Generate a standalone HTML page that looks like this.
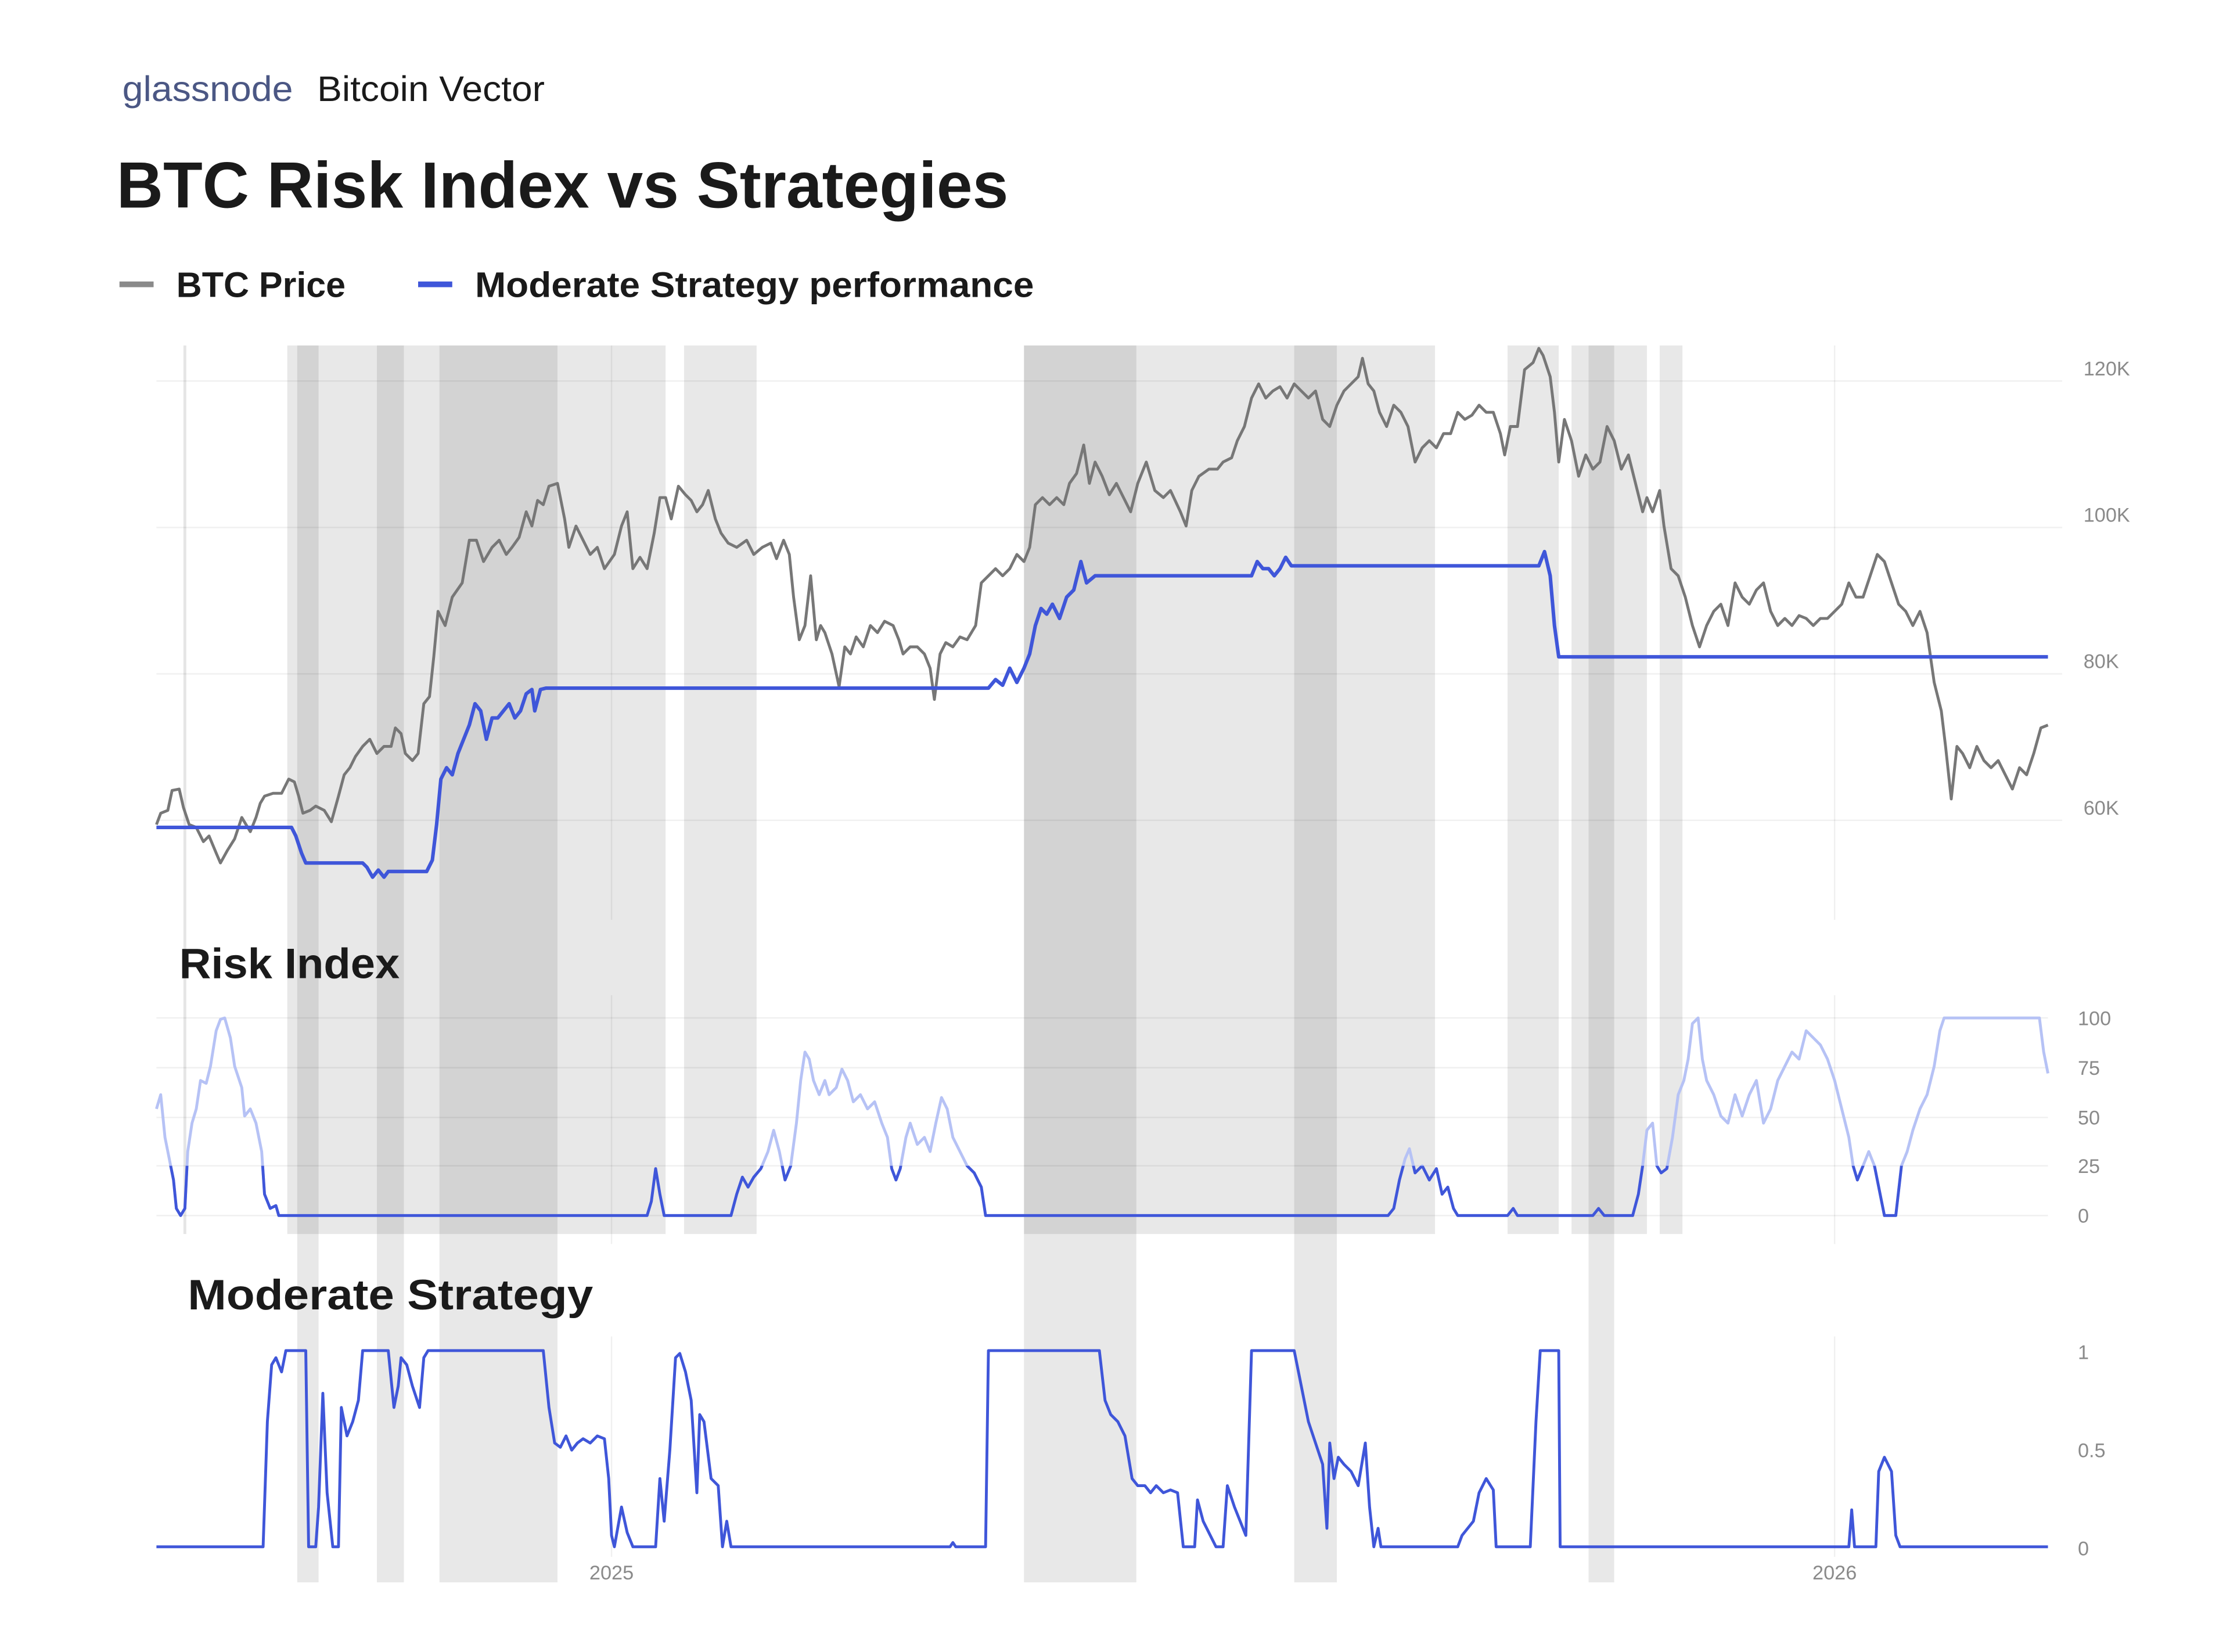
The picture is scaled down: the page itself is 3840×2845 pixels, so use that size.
<!DOCTYPE html>
<html><head><meta charset="utf-8"><style>html,body{margin:0;padding:0;background:#fff}svg{display:block}</style></head>
<body>
<svg width="3840" height="2845" viewBox="0 0 1568 1162" preserveAspectRatio="none" xmlns="http://www.w3.org/2000/svg" xmlns:xlink="http://www.w3.org/1999/xlink" font-family="Liberation Sans, sans-serif">
<rect width="1568" height="1162" fill="#fff"/>
<defs>
<clipPath id="lo"><rect x="100" y="820" width="1400" height="60"/></clipPath>
<polyline id="risk" points="110,780 113,770 116,800 119,815 122,830 124,850 127,855 130,850 132,810 135,790 138,780 141,760 145,762 148,750 152,725 155,717 158,716 162,730 165,750 170,765 172,785 176,780 180,790 184,810 186,840 190,850 194,848 196,855 455,855 458,845 461,822 464,840 467,855 514,855 518,840 522,828 526,835 530,828 535,822 540,810 544,795 548,810 552,830 556,820 560,790 563,760 566,740 569,745 572,760 576,770 580,760 583,770 588,765 592,752 596,760 600,775 605,770 610,780 615,775 620,790 624,800 627,822 630,830 633,822 637,800 640,790 645,805 650,800 654,810 658,790 662,772 666,780 670,800 675,810 680,820 685,825 690,835 693,855 976,855 980,850 984,830 988,815 991,808 995,825 1000,820 1005,830 1010,822 1014,840 1018,835 1022,850 1025,855 1060,855 1064,850 1067,855 1120,855 1124,850 1128,855 1148,855 1152,840 1155,820 1158,795 1162,790 1165,820 1168,825 1172,822 1176,800 1180,770 1184,760 1187,745 1190,720 1194,716 1197,745 1200,760 1205,770 1210,785 1215,790 1220,770 1225,785 1230,770 1235,760 1240,790 1245,780 1250,760 1255,750 1260,740 1265,745 1270,725 1275,730 1280,735 1285,745 1290,760 1295,780 1300,800 1303,820 1306,830 1310,820 1314,810 1318,820 1322,840 1325,855 1333,855 1337,820 1341,810 1345,795 1350,780 1355,770 1360,750 1364,725 1367,716 1434,716 1437,740 1440,755"/>
</defs>
<text x="86" y="71" font-size="25" fill="#4b5784" textLength="120" lengthAdjust="spacingAndGlyphs">glassnode</text>
<text x="223" y="71" font-size="25" fill="#1a1a1a" textLength="160" lengthAdjust="spacingAndGlyphs">Bitcoin Vector</text>
<text x="82" y="146" font-size="46" font-weight="bold" fill="#1a1a1a" textLength="627" lengthAdjust="spacingAndGlyphs">BTC Risk Index vs Strategies</text>
<rect x="84" y="198" width="24" height="4" fill="#8a8a8a"/>
<text x="124" y="209" font-size="25" font-weight="bold" fill="#1a1a1a" textLength="119" lengthAdjust="spacingAndGlyphs">BTC Price</text>
<rect x="294" y="198" width="24" height="4" fill="#3f56d9"/>
<text x="334" y="209" font-size="25" font-weight="bold" fill="#1a1a1a" textLength="393" lengthAdjust="spacingAndGlyphs">Moderate Strategy performance</text>

<g fill="#000" fill-opacity="0.09">
<rect x="202" y="243" width="266" height="625"/>
<rect x="481" y="243" width="51" height="625"/>
<rect x="720" y="243" width="289" height="625"/>
<rect x="1060" y="243" width="36" height="625"/>
<rect x="1105" y="243" width="53" height="625"/>
<rect x="1167" y="243" width="16" height="625"/>
</g>
<g fill="#000" fill-opacity="0.09">
<rect x="209" y="243" width="15" height="870"/>
<rect x="265" y="243" width="19" height="870"/>
<rect x="309" y="243" width="83" height="870"/>
<rect x="720" y="243" width="79" height="870"/>
<rect x="910" y="243" width="30" height="870"/>
<rect x="1117" y="243" width="18" height="870"/>
</g>

<g stroke="#000" stroke-opacity="0.06" stroke-width="1">
<line x1="110" y1="268" x2="1450" y2="268"/><line x1="110" y1="371" x2="1450" y2="371"/>
<line x1="110" y1="474" x2="1450" y2="474"/><line x1="110" y1="577" x2="1450" y2="577"/>
<line x1="430" y1="243" x2="430" y2="647"/><line x1="1290" y1="243" x2="1290" y2="647"/>
<line x1="110" y1="716" x2="1440" y2="716"/><line x1="110" y1="751" x2="1440" y2="751"/>
<line x1="110" y1="786" x2="1440" y2="786"/><line x1="110" y1="820" x2="1440" y2="820"/>
<line x1="110" y1="855" x2="1440" y2="855"/>
<line x1="430" y1="700" x2="430" y2="875"/><line x1="1290" y1="700" x2="1290" y2="875"/>
<line x1="430" y1="940" x2="430" y2="1095"/><line x1="1290" y1="940" x2="1290" y2="1095"/>
</g>
<line x1="130" y1="243" x2="130" y2="868" stroke="#000" stroke-opacity="0.1" stroke-width="2"/>

<g font-size="14" fill="#8a8a8a">
<text x="1465" y="264">120K</text><text x="1465" y="367">100K</text>
<text x="1465" y="470">80K</text><text x="1465" y="573">60K</text>
<text x="1461" y="721">100</text><text x="1461" y="756">75</text><text x="1461" y="791">50</text>
<text x="1461" y="825">25</text><text x="1461" y="860">0</text>
<text x="1461" y="956">1</text><text x="1461" y="1025">0.5</text><text x="1461" y="1094">0</text>
<text x="430" y="1111" text-anchor="middle">2025</text><text x="1290" y="1111" text-anchor="middle">2026</text>
</g>

<text x="126" y="688" font-size="30" font-weight="bold" fill="#1a1a1a" textLength="155" lengthAdjust="spacingAndGlyphs">Risk Index</text>
<text x="132" y="921" font-size="30" font-weight="bold" fill="#1a1a1a" textLength="285" lengthAdjust="spacingAndGlyphs">Moderate Strategy</text>

<polyline fill="none" stroke="#777" stroke-width="2" stroke-linejoin="round" points="110,580 113,572 118,570 121,556 126,555 129,568 133,580 138,582 143,592 147,588 152,600 155,607 160,598 165,590 170,575 176,585 180,575 183,565 186,560 192,558 198,558 203,548 207,550 210,560 213,572 218,570 222,567 228,570 233,578 238,560 242,545 246,540 250,532 255,525 260,520 265,530 270,525 275,525 278,512 282,516 285,530 290,535 294,530 298,495 302,490 305,462 308,430 313,440 318,420 325,410 330,380 335,380 340,395 346,385 351,380 356,390 360,385 365,378 370,360 374,370 378,352 382,355 386,342 392,340 397,365 400,385 405,370 410,380 415,390 420,385 425,400 432,390 437,370 441,360 445,400 450,392 455,400 460,375 464,350 468,350 472,365 477,342 482,348 486,352 490,360 494,355 498,345 503,365 507,375 512,382 518,385 525,380 530,390 536,385 542,382 546,393 551,380 555,390 558,420 562,450 566,440 570,405 574,450 577,440 580,445 585,460 590,483 594,455 598,460 602,448 607,455 612,440 617,445 622,437 628,440 632,450 635,460 640,455 645,455 650,460 654,470 657,492 661,460 665,452 670,455 675,448 680,450 686,440 690,410 695,405 700,400 705,405 710,400 715,390 720,395 724,385 728,355 733,350 738,355 743,350 748,355 752,340 757,333 762,313 766,340 770,325 775,335 780,348 785,340 790,350 795,360 800,340 806,325 812,345 818,350 823,345 830,360 834,370 838,345 843,335 850,330 856,330 860,325 866,322 870,310 875,300 880,280 885,270 890,280 895,275 900,272 905,280 910,270 915,275 920,280 925,275 930,295 935,300 940,285 945,275 950,270 955,265 958,252 962,270 966,275 970,290 975,300 980,285 985,290 990,300 995,325 1000,315 1005,310 1010,315 1015,305 1020,305 1025,290 1030,295 1035,292 1040,285 1045,290 1050,290 1055,305 1058,320 1062,300 1067,300 1072,260 1078,255 1082,245 1085,250 1090,265 1093,290 1096,325 1100,295 1105,310 1110,335 1115,320 1120,330 1125,325 1130,300 1135,310 1140,330 1145,320 1150,340 1155,360 1158,350 1162,360 1167,345 1170,370 1175,400 1180,405 1185,420 1190,440 1195,455 1200,440 1205,430 1210,425 1215,440 1220,410 1225,420 1230,425 1235,415 1240,410 1245,430 1250,440 1255,435 1260,440 1265,433 1270,435 1275,440 1280,435 1285,435 1290,430 1295,425 1300,410 1305,420 1310,420 1315,405 1320,390 1325,395 1330,410 1335,425 1340,430 1345,440 1350,430 1355,445 1360,480 1365,500 1368,525 1372,562 1376,525 1380,530 1385,540 1390,525 1395,535 1400,540 1405,535 1410,545 1415,555 1420,540 1425,545 1430,530 1435,512 1440,510"/>

<polyline fill="none" stroke="#3f56d9" stroke-width="2.5" stroke-linejoin="round" points="110,582 205,582 208,588 212,600 215,607 255,607 258,610 262,617 266,612 270,617 273,613 300,613 304,605 307,580 310,548 314,540 318,545 322,530 326,520 330,510 334,495 338,500 342,520 346,505 350,505 354,500 358,495 362,505 366,500 370,488 374,485 376,500 380,485 384,484 695,484 700,478 705,482 710,470 715,480 720,470 724,460 728,440 732,428 736,432 740,425 745,435 750,420 755,415 760,395 764,410 770,405 880,405 884,395 888,400 892,400 896,405 900,400 904,392 908,398 1082,398 1086,388 1090,405 1093,440 1096,462 1440,462"/>

<use xlink:href="#risk" href="#risk" fill="none" stroke="#b6c2f5" stroke-width="2" stroke-linejoin="round"/>
<use xlink:href="#risk" href="#risk" fill="none" stroke="#3f56d9" stroke-width="2" stroke-linejoin="round" clip-path="url(#lo)"/>

<polyline fill="none" stroke="#3f56d9" stroke-width="2" stroke-linejoin="round" points="110,1088 185,1088 188,1000 191,960 194,955 198,965 201,950 215,950 217,1088 222,1088 224,1060 227,980 230,1050 234,1088 238,1088 240,990 244,1010 248,1000 252,985 255,950 273,950 277,990 280,975 282,955 286,960 290,975 295,990 298,955 301,950 382,950 386,990 390,1015 394,1018 398,1010 402,1020 406,1015 410,1012 415,1015 420,1010 425,1012 428,1040 430,1080 432,1088 437,1060 441,1078 445,1088 461,1088 464,1040 467,1070 471,1020 475,955 478,952 482,965 486,985 490,1050 492,995 495,1000 500,1040 505,1045 508,1088 511,1070 514,1088 668,1088 670,1085 672,1088 693,1088 695,950 773,950 777,985 781,995 786,1000 791,1010 796,1040 800,1045 805,1045 809,1050 813,1045 818,1050 823,1048 828,1050 832,1088 840,1088 842,1055 846,1070 852,1082 855,1088 860,1088 863,1045 868,1060 872,1070 876,1080 880,950 910,950 914,970 920,1000 925,1015 930,1030 933,1075 935,1015 938,1040 941,1025 945,1030 950,1035 955,1045 960,1015 963,1060 966,1088 969,1075 971,1088 1025,1088 1028,1080 1032,1075 1036,1070 1040,1050 1045,1040 1050,1048 1052,1088 1076,1088 1080,1000 1083,950 1096,950 1097,1088 1300,1088 1302,1062 1304,1088 1319,1088 1321,1035 1325,1025 1330,1035 1333,1080 1336,1088 1440,1088"/>
</svg>
</body></html>
